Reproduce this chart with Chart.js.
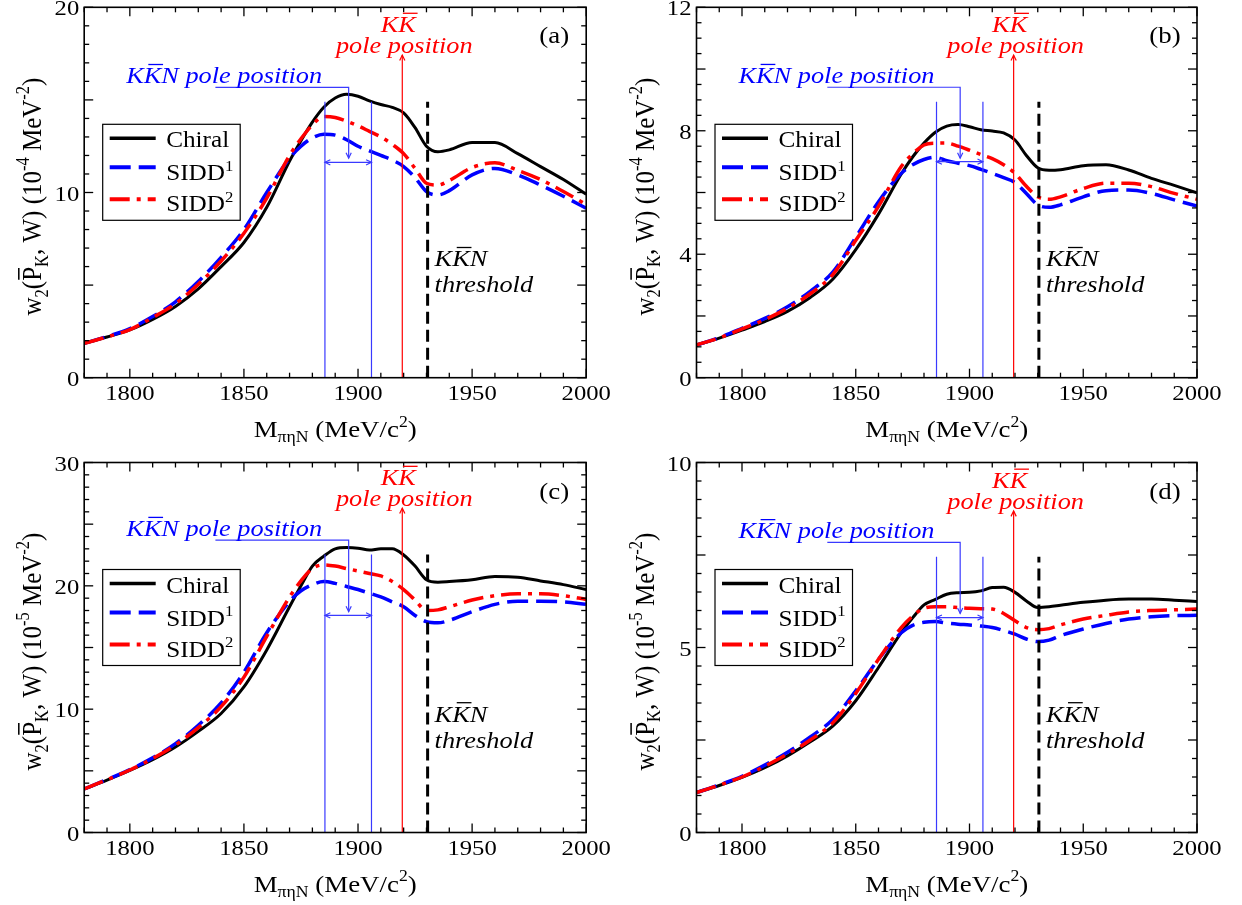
<!DOCTYPE html>
<html><head><meta charset="utf-8">
<script src="https://cdn.jsdelivr.net/npm/chart.js@4.4.1/dist/chart.umd.min.js"></script>
<style>
html,body{margin:0;padding:0;background:#fff;}
body{width:1242px;height:905px;position:relative;overflow:hidden;}
canvas{position:absolute;}
</style></head><body>
<canvas id="pa" width="620" height="452" style="left:0;top:0"></canvas>
<canvas id="pb" width="622" height="452" style="left:620px;top:0"></canvas>
<canvas id="pc" width="620" height="453" style="left:0;top:452px"></canvas>
<canvas id="pd" width="622" height="453" style="left:620px;top:452px"></canvas>
<script>
// ---------------- data ----------------
const masses = [1780,1790,1800,1810,1820,1830,1840,1850,1860,1870,1875,1880,1885,1890,1895,1900,1905,1910,1915,1920,1925,1930,1935,1940,1950,1960,1970,1980,1990,2000];

const chiralA = [1.86,2.2,2.58,3.15,3.85,4.8,6.0,7.3,9.2,11.7,12.8,13.8,14.6,15.1,15.3,15.2,14.95,14.75,14.6,14.3,13.5,12.5,12.2,12.3,12.7,12.7,12.1,11.4,10.7,9.9];
const sidd1A  = [1.86,2.22,2.65,3.3,4.1,5.2,6.5,8.0,10.0,11.85,12.5,12.95,13.15,13.1,12.85,12.5,12.25,12.0,11.75,11.4,10.8,10.05,9.87,10.1,10.95,11.3,10.95,10.4,9.8,9.15];
const sidd2A  = [1.86,2.2,2.6,3.25,4.0,5.05,6.3,7.8,9.7,12.0,12.9,13.65,14.1,14.05,13.85,13.6,13.3,13.0,12.6,12.1,11.3,10.5,10.4,10.65,11.35,11.6,11.2,10.7,10.05,9.35];

const chiralB = [1.06,1.28,1.54,1.82,2.15,2.6,3.2,4.15,5.3,6.6,7.15,7.6,7.95,8.15,8.2,8.13,8.03,7.99,7.93,7.7,7.2,6.8,6.72,6.74,6.87,6.9,6.73,6.46,6.23,5.99];
const sidd1B  = [1.06,1.3,1.6,1.92,2.3,2.8,3.43,4.55,5.7,6.62,6.9,7.07,7.14,7.03,6.95,6.87,6.75,6.62,6.48,6.32,5.97,5.6,5.52,5.6,5.86,6.06,6.08,5.97,5.76,5.56];
const sidd2B  = [1.06,1.29,1.58,1.88,2.25,2.72,3.35,4.45,5.55,6.84,7.25,7.54,7.6,7.6,7.5,7.37,7.23,7.1,6.9,6.62,6.2,5.86,5.78,5.86,6.13,6.3,6.3,6.19,5.97,5.78];

const chiralC = [3.53,4.25,5.03,5.9,6.93,8.2,9.65,11.8,14.8,18.3,20.0,21.6,22.4,23.0,23.1,23.05,22.9,23.0,23.0,22.5,21.6,20.5,20.3,20.35,20.5,20.75,20.7,20.4,20.1,19.7];
const sidd1C  = [3.53,4.3,5.1,6.05,7.2,8.7,10.5,13.0,16.2,18.75,19.6,20.1,20.35,20.2,19.95,19.7,19.4,19.1,18.7,18.3,17.6,17.1,17.0,17.2,17.9,18.5,18.75,18.75,18.7,18.5];
const sidd2C  = [3.53,4.28,5.07,6.0,7.1,8.5,10.2,12.6,15.9,19.1,20.4,21.4,21.7,21.6,21.4,21.2,21.0,20.8,20.35,19.7,18.85,18.0,18.05,18.3,18.85,19.2,19.35,19.35,19.2,18.9];

const chiralD = [1.08,1.27,1.49,1.75,2.07,2.45,2.88,3.56,4.46,5.4,5.8,6.15,6.3,6.44,6.48,6.49,6.53,6.62,6.63,6.49,6.26,6.08,6.1,6.14,6.22,6.28,6.31,6.31,6.28,6.24];
const sidd1D  = [1.08,1.29,1.52,1.82,2.17,2.58,3.06,3.83,4.68,5.4,5.6,5.68,5.7,5.66,5.63,5.61,5.58,5.54,5.46,5.36,5.23,5.16,5.2,5.32,5.5,5.65,5.77,5.83,5.86,5.87];
const sidd2D  = [1.08,1.28,1.5,1.79,2.12,2.5,2.97,3.76,4.68,5.54,5.85,6.06,6.1,6.1,6.08,6.06,6.05,6.04,5.92,5.72,5.54,5.48,5.51,5.61,5.77,5.87,5.96,6.0,6.02,6.04];

const seriesNames = ['Chiral','SIDD','SIDD'];
const seriesSup = ['', '1', '2'];
const xTickLabels = [1800,1850,1900,1950,2000];
const yTicksA = [0,10,20];
const yTicksB = [0,4,8,12];
const yTicksC = [0,10,20,30];
const yTicksD = [0,5,10];
const panelLabels = ['(a)','(b)','(c)','(d)'];
const yExponents = ['-4','-4','-5','-5'];

// reference positions (MeV)
const kkbarNRange = [1885.5, 1905.9];
const kkbarNPole = 1895.9;
const bracketStart = 1837.5;
const kkbarPole = 1919.4;
const kkbarNThreshold = 1930.5;

// ---------------- styling ----------------
const FONT = '"Liberation Serif", "Times New Roman", serif';
const S = 1.12; // horizontal stretch of the reference glyphs
const BLUE = '#0000ff', RED = '#ff0000', THINBLUE = '#3a3aff';

function fontFor(seg, size, italic) {
  const sz = (seg.k === 'sub' || seg.k === 'sup') ? size * 0.66 : size;
  return (italic ? 'italic ' : '') + sz.toFixed(1) + 'px ' + FONT;
}
function richWidth(ctx, segs, size, italic) {
  let w = 0;
  for (const s of segs) { ctx.font = fontFor(s, size, italic); w += ctx.measureText(s.t).width; }
  return w;
}
function drawRich(ctx, segs, x, y, size, o) {
  o = o || {};
  ctx.save();
  ctx.translate(x, y);
  if (o.rotate) { ctx.rotate(-Math.PI / 2); ctx.scale(1, S); } else { ctx.scale(S, 1); }
  const w = richWidth(ctx, segs, size, o.italic);
  let cx = o.align === 'center' ? -w / 2 : (o.align === 'right' ? -w : 0);
  ctx.fillStyle = o.color || '#000';
  ctx.strokeStyle = o.color || '#000';
  ctx.textAlign = 'left';
  ctx.textBaseline = 'alphabetic';
  for (const s of segs) {
    ctx.font = fontFor(s, size, o.italic);
    const dy = s.k === 'sub' ? size * 0.24 : (s.k === 'sup' ? -size * 0.42 : 0);
    ctx.fillText(s.t, cx, dy);
    const tw = ctx.measureText(s.t).width;
    if (s.bar) {
      const by = dy - size * 0.80;
      const off = o.italic ? size * 0.12 : 0;
      ctx.lineWidth = Math.max(1, size * 0.055);
      ctx.beginPath();
      ctx.moveTo(cx + tw * 0.08 + off, by);
      ctx.lineTo(cx + tw * 0.92 + off, by);
      ctx.stroke();
    }
    cx += tw;
  }
  ctx.restore();
}
function seg(t, k, bar) { return { t: t, k: k || 'n', bar: !!bar }; }
function line(ctx, x1, y1, x2, y2) { ctx.beginPath(); ctx.moveTo(x1, y1); ctx.lineTo(x2, y2); ctx.stroke(); }
function arrowHead(ctx, x, y, ang) {
  const L = 6, a = 0.45;
  ctx.beginPath();
  ctx.moveTo(x + L * Math.cos(ang + Math.PI - a), y + L * Math.sin(ang + Math.PI - a));
  ctx.lineTo(x, y);
  ctx.lineTo(x + L * Math.cos(ang + Math.PI + a), y + L * Math.sin(ang + Math.PI + a));
  ctx.stroke();
}

const lineStyles = [
  { color: '#000000', width: 3, dash: [] },
  { color: BLUE, width: 3.5, dash: [21, 8] },
  { color: RED, width: 3.5, dash: [20, 7, 4, 7] }
];

function makeDeco(p) {
  return {
    id: 'deco',
    afterDatasetsDraw(chart) {
      const ctx = chart.ctx, ca = chart.chartArea;
      const xs = chart.scales.x, ys = chart.scales.y;
      const X = v => xs.getPixelForValue(v), Y = v => ys.getPixelForValue(v);
      const an = p.ann;
      ctx.save();
      ctx.lineCap = 'butt';
      ctx.setLineDash([]);
      // thin blue marks
      ctx.strokeStyle = THINBLUE; ctx.lineWidth = 1.2;
      for (const m of kkbarNRange) line(ctx, X(m), Y(0), X(m), Y(an.vTop));
      const ay = Y(an.arrowY);
      line(ctx, X(kkbarNRange[0]), ay, X(kkbarNRange[1]), ay);
      arrowHead(ctx, X(kkbarNRange[0]), ay, Math.PI);
      arrowHead(ctx, X(kkbarNRange[1]), ay, 0);
      const by = Y(an.bracketY);
      ctx.beginPath(); ctx.moveTo(X(bracketStart), by); ctx.lineTo(X(kkbarNPole), by); ctx.lineTo(X(kkbarNPole), Y(an.bracketEnd)); ctx.stroke();
      arrowHead(ctx, X(kkbarNPole), Y(an.bracketEnd), Math.PI / 2);
      // red pole
      ctx.strokeStyle = RED; ctx.lineWidth = 1.2;
      line(ctx, X(kkbarPole), Y(0), X(kkbarPole), Y(an.redTop));
      arrowHead(ctx, X(kkbarPole), Y(an.redTop), -Math.PI / 2);
      // threshold
      ctx.strokeStyle = '#000'; ctx.lineWidth = 3; ctx.setLineDash([12, 6]);
      line(ctx, X(kkbarNThreshold), Y(0), X(kkbarNThreshold), Y(an.dashTop));
      ctx.setLineDash([]);

      // frame
      ctx.strokeStyle = '#000'; ctx.lineWidth = 1.6;
      ctx.strokeRect(ca.left, ca.top, ca.right - ca.left, ca.bottom - ca.top);
      // ticks
      ctx.lineWidth = 1.3;
      const eps = 1e-6;
      for (let v = 1780; v <= 2000 + eps; v += 10) {
        const major = Math.abs(v % 50) < eps;
        const L = major ? 9 : 5, x = X(v);
        line(ctx, x, ca.bottom, x, ca.bottom - L);
        line(ctx, x, ca.top, x, ca.top + L);
      }
      for (let v = 0; v <= p.ymax + eps; v += p.yMinor) {
        const r = v / p.yMajor;
        const major = Math.abs(r - Math.round(r)) < 1e-6;
        const L = major ? 9 : 5, y = Y(v);
        line(ctx, ca.left, y, ca.left + L, y);
        line(ctx, ca.right, y, ca.right - L, y);
      }
      // tick labels
      for (const v of xTickLabels) drawRich(ctx, [seg(String(v))], X(v), ca.bottom + 22, 22, { align: 'center' });
      for (const v of p.yTicks) drawRich(ctx, [seg(String(v))], ca.left - 5, Y(v) + 8, 22, { align: 'right' });
      // axis titles
      drawRich(ctx, [seg('M'), seg('πηN', 'sub'), seg(' (MeV/c'), seg('2', 'sup'), seg(')')],
        (ca.left + ca.right) / 2, ca.bottom + 59, 24, { align: 'center' });
      drawRich(ctx, [seg('w'), seg('2', 'sub'), seg('('), seg('P', 'n', true), seg('K', 'sub'), seg(', W) (10'),
        seg(p.exp, 'sup'), seg(' MeV'), seg('-2', 'sup'), seg(')')],
        ca.left - 43, (ca.top + ca.bottom) / 2 + 4, 25, { align: 'center', rotate: true });
      // panel label
      drawRich(ctx, [seg(p.label)], ca.right - 32, ca.top + 36, 24, { align: 'center' });
      // blue pole label
      drawRich(ctx, [seg('K'), seg('K', 'n', true), seg('N pole position')], ca.left + 42, by - 4, 23.5, { italic: true, color: BLUE });
      // red pole label
      const rx = X(kkbarPole), rb = Y(an.redTop) - 2;
      drawRich(ctx, [seg('pole position')], rx + 2, rb, 23.5, { italic: true, color: RED, align: 'center' });
      drawRich(ctx, [seg('K'), seg('K', 'n', true)], rx - 4, rb - 21, 23.5, { italic: true, color: RED, align: 'center' });
      // threshold label
      const tx = X(kkbarNThreshold) + 7;
      drawRich(ctx, [seg('K'), seg('K', 'n', true), seg('N')], tx, ca.top + 259, 23.5, { italic: true });
      drawRich(ctx, [seg('threshold')], tx, ca.top + 285, 23.5, { italic: true });
      // legend
      const lx = ca.left + 18.5, ly = ca.top + p.legendDy, lw = 137.5, lh = 96;
      ctx.fillStyle = '#fff'; ctx.fillRect(lx, ly, lw, lh);
      ctx.strokeStyle = '#000'; ctx.lineWidth = 1.2; ctx.strokeRect(lx, ly, lw, lh);
      const sampleY = [14, 43, 75], textY = [23, 56, 87];
      for (let i = 0; i < 3; i++) {
        const st = lineStyles[i];
        ctx.strokeStyle = st.color; ctx.lineWidth = st.width + 0.5; ctx.setLineDash(st.dash);
        line(ctx, lx + 7, ly + sampleY[i], lx + 53, ly + sampleY[i]);
        ctx.setLineDash([]);
        const segs = [seg(seriesNames[i])];
        if (seriesSup[i]) segs.push(seg(seriesSup[i], 'sup'));
        drawRich(ctx, segs, lx + 63.5, ly + textY[i], 22.5, {});
      }
      ctx.restore();
    }
  };
}

function makeChart(id, series, p, geo) {
  const ds = series.map((arr, i) => ({
    label: seriesNames[i] + seriesSup[i],
    data: masses.map((m, j) => ({ x: m, y: arr[j] })),
    borderColor: lineStyles[i].color,
    borderWidth: lineStyles[i].width,
    borderDash: lineStyles[i].dash,
    pointRadius: 0,
    fill: false,
    cubicInterpolationMode: 'monotone',
    borderCapStyle: 'butt'
  })).reverse();
  return new Chart(document.getElementById(id), {
    type: 'line',
    data: { datasets: ds },
    options: {
      responsive: false, animation: false, devicePixelRatio: 1,
      layout: { padding: { left: 0, top: geo.top, right: geo.right, bottom: 0 } },
      plugins: { legend: { display: false }, tooltip: { enabled: false } },
      scales: {
        x: { type: 'linear', min: 1780, max: 2000, ticks: { display: false }, grid: { display: false }, border: { display: false },
             afterFit(s) { s.height = geo.xh; } },
        y: { type: 'linear', min: 0, max: p.ymax, ticks: { display: false }, grid: { display: false }, border: { display: false },
             afterFit(s) { s.width = geo.yw; } }
      }
    },
    plugins: [makeDeco(p)]
  });
}

makeChart('pa', [chiralA, sidd1A, sidd2A],
  { ymax: 20, yMajor: 5, yMinor: 1, yTicks: yTicksA, label: panelLabels[0], exp: yExponents[0], legendDy: 117,
    ann: { vTop: 14.9, arrowY: 11.63, bracketY: 15.68, bracketEnd: 11.85, redTop: 17.42, dashTop: 14.9 } },
  { top: 7.3, right: 33.8, xh: 74.3, yw: 84.2 });
makeChart('pb', [chiralB, sidd1B, sidd2B],
  { ymax: 12, yMajor: 2, yMinor: 0.5, yTicks: yTicksB, label: panelLabels[1], exp: yExponents[1], legendDy: 117,
    ann: { vTop: 8.94, arrowY: 7.0, bracketY: 9.41, bracketEnd: 7.11, redTop: 10.45, dashTop: 8.94 } },
  { top: 7.3, right: 45, xh: 74.3, yw: 76.5 });
makeChart('pc', [chiralC, sidd1C, sidd2C],
  { ymax: 30, yMajor: 5, yMinor: 1, yTicks: yTicksC, label: panelLabels[2], exp: yExponents[2], legendDy: 107,
    ann: { vTop: 22.55, arrowY: 17.6, bracketY: 23.7, bracketEnd: 17.9, redTop: 26.3, dashTop: 22.55 } },
  { top: 10.5, right: 33.8, xh: 72.5, yw: 84.2 });
makeChart('pd', [chiralD, sidd1D, sidd2D],
  { ymax: 10, yMajor: 2.5, yMinor: 0.5, yTicks: yTicksD, label: panelLabels[3], exp: yExponents[3], legendDy: 107,
    ann: { vTop: 7.45, arrowY: 5.81, bracketY: 7.84, bracketEnd: 5.92, redTop: 8.69, dashTop: 7.45 } },
  { top: 10.5, right: 45, xh: 72.5, yw: 76.5 });
</script>
</body></html>
